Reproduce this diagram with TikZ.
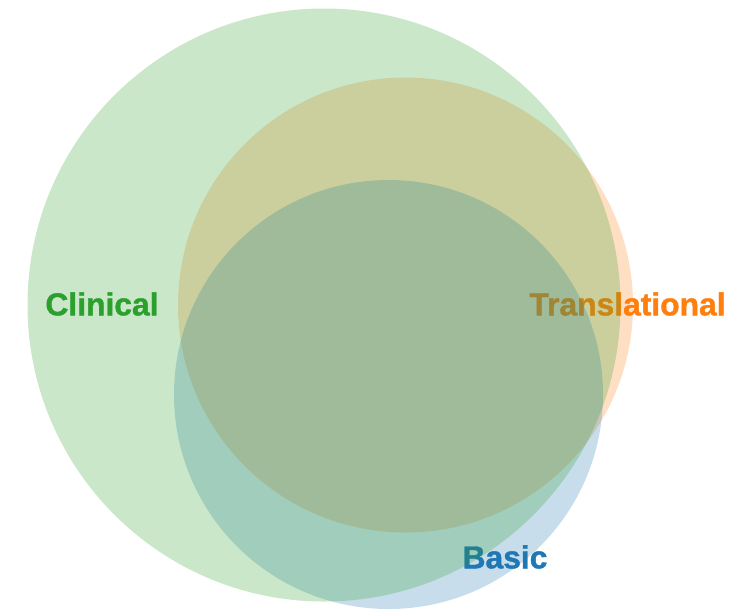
\documentclass[tikz,border=0pt]{standalone}
\usepackage{fontspec}
\setmainfont{Liberation Sans}
\newfontfamily\labelfont[FakeBold=1.2]{Liberation Sans Bold}
\usepackage{tikz}
\definecolor{clingreen}{RGB}{44,160,44}
\definecolor{transorange}{RGB}{255,127,14}
\definecolor{basicblue}{RGB}{31,119,180}

\begin{document}
\begin{tikzpicture}[x=1pt, y=-1pt,
    setlabel/.style={font=\labelfont\fontsize{31.8}{36}\selectfont, inner sep=0pt},
    setdisc/.style={fill opacity=0.25}]
    % Def coords
    \coordinate (C) at (324, 305);
    \coordinate (T) at (405.5, 305);
    \coordinate (B) at (388.5, 394.5);
    \useasboundingbox (0, 0) rectangle (738, 611);
    % Labels (under the discs)
    \node[setlabel, text=clingreen] (clinical) at (102, 304) {Clinical};
    \node[setlabel, text=transorange] (translational) at (627.5, 304) {Translational};
    \node[setlabel, text=basicblue] (basic) at (505, 557) {Basic};
    % Draw discs
    \fill[transorange, setdisc] (T) circle (227.5pt);
    \fill[basicblue, setdisc] (B) circle (214.5pt);
    \fill[clingreen, setdisc] (C) circle (296.5pt);
\end{tikzpicture}
\end{document}
